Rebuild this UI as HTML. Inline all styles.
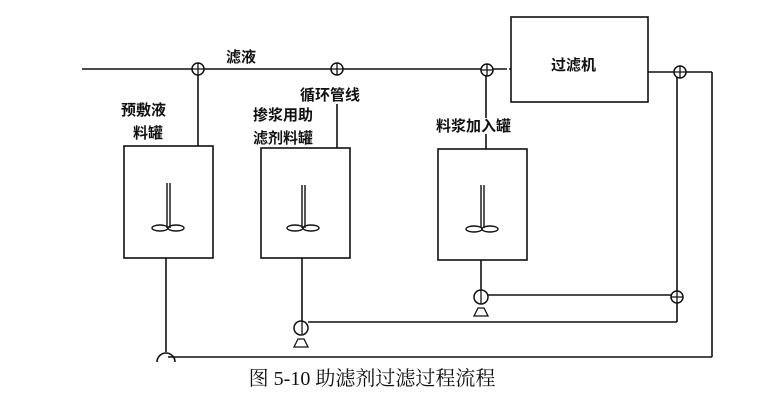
<!DOCTYPE html>
<html><head><meta charset="utf-8"><style>body{margin:0;background:#fff}svg{display:block}</style></head><body>
<svg width="780" height="413" viewBox="0 0 780 413" xmlns="http://www.w3.org/2000/svg" font-family="'Liberation Serif','Noto Serif CJK SC','Noto Sans CJK SC',serif">
<g stroke="#111" stroke-width="1.6" fill="none">
<line x1="82" y1="69" x2="505" y2="69"/>
<line x1="505" y1="69" x2="511" y2="69" stroke-dasharray="2 2"/>
<rect x="511" y="17" width="137" height="85"/>
<line x1="648" y1="72" x2="712" y2="72"/>
<line x1="712" y1="72" x2="712" y2="357"/>
<line x1="712" y1="357" x2="168" y2="357"/>
<line x1="677" y1="72" x2="677" y2="322"/>
<line x1="677" y1="322" x2="308" y2="322"/>
<line x1="488" y1="295" x2="677" y2="295"/>
<rect x="124" y="146" width="89" height="112"/>
<rect x="261" y="148" width="89" height="110"/>
<rect x="438" y="149" width="89" height="111"/>
<line x1="198" y1="69" x2="198" y2="146"/>
<line x1="337" y1="104" x2="337" y2="148"/>
<line x1="486" y1="69" x2="486" y2="118"/>
<line x1="486" y1="134" x2="486" y2="149"/>
<line x1="166" y1="258" x2="166" y2="352"/>
<path d="M157 362 A9 9 0 0 1 175 362"/>
<line x1="302" y1="258" x2="302" y2="320"/>
<line x1="481" y1="260" x2="481" y2="290"/>
</g>
<g stroke="#111" stroke-width="1.5" fill="#fff">
<circle cx="198" cy="69" r="6"/><circle cx="337" cy="69" r="6"/><circle cx="487" cy="70" r="6"/><circle cx="680" cy="72" r="6"/><circle cx="677" cy="297" r="6"/>
<circle cx="301" cy="328" r="7"/><circle cx="481" cy="297" r="7"/>
</g>
<g stroke="#111" stroke-width="1.3">
<path d="M192 69h12M198 63v12M331 69h12M337 63v12M481 70h12M487 64v12M674 72h12M680 66v12M671 297h12M677 291v12"/>
<path d="M302 320v14M481 290v14"/>
<path d="M294 347l4-8h6l4 8z M474 316l4-8h6l4 8z" fill="none"/>
</g>
<g stroke="#111" stroke-width="1.4" fill="none">
<path d="M167 183v45M170 183v45"/><ellipse cx="160" cy="228" rx="8" ry="3"/><ellipse cx="176" cy="228" rx="8" ry="3"/>
<path d="M302 185v43M305 185v43"/><ellipse cx="295" cy="228" rx="8" ry="3"/><ellipse cx="311" cy="228" rx="8" ry="3"/>
<path d="M481 185v43M484 185v43"/><ellipse cx="474" cy="229" rx="8" ry="3"/><ellipse cx="490" cy="229" rx="8" ry="3"/>
</g>
<g fill="#111" font-size="15" font-family="'Noto Sans CJK SC',sans-serif" font-weight="bold">
<text x="226" y="62">滤液</text>
<text x="300" y="100">循环管线</text>
<text x="121" y="115">预敷液</text>
<text x="133" y="138">料罐</text>
<text x="253" y="120">掺浆用助</text>
<text x="253" y="143">滤剂料罐</text>
<text x="436" y="131">料浆加入罐</text>
<text x="551" y="70">过滤机</text>
</g>
<text x="372" y="385" font-size="20" text-anchor="middle" fill="#111">图 5-10 助滤剂过滤过程流程</text>
</svg>
</body></html>
